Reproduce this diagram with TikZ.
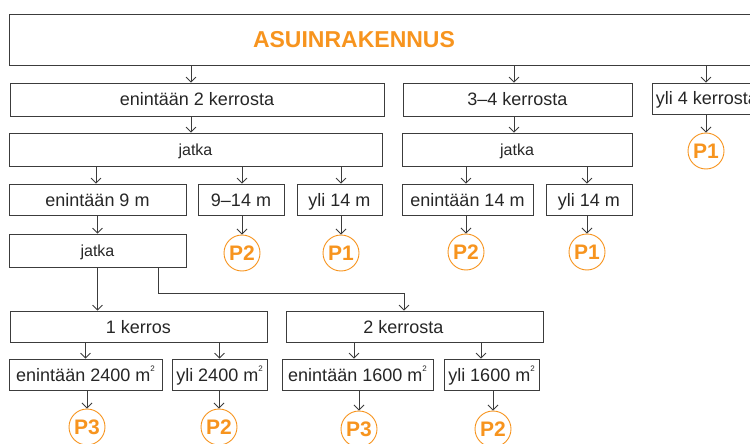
\documentclass[tikz,border=0pt]{standalone}
\usepackage{fontspec}
\setmainfont{Liberation Sans}
\usetikzlibrary{arrows.meta}
\definecolor{ora}{RGB}{247,148,30}
\definecolor{ln}{RGB}{60,60,60}
\tikzstyle{box} = [draw=ln, line width=.8pt, inner sep=0pt, minimum height=31pt, text height=13pt, text depth=0pt, font=\fontsize{18}{20}\selectfont, text=black!85]
\tikzstyle{jat} = [box, minimum height=33pt, text height=11.5pt, font=\fontsize{16}{18}\selectfont]
\tikzstyle{res} = [draw=ora, circle, line width=.9pt, minimum size=36pt, inner sep=0pt, text height=15pt, text depth=0pt, fill=white, text=ora, font=\bfseries\fontsize{21}{22}\selectfont]
\tikzstyle{title} = [text=ora, font=\bfseries\fontsize{23}{25}\selectfont]
\tikzstyle{l} = [draw=ln, line width=.8pt, -{Straight Barb[length=5pt,width=10pt]}]
\newcommand{\msq}{m\raisebox{.55em}{\fontsize{8}{8}\selectfont 2}}

\begin{document}
\begin{tikzpicture}[x=1pt, y=-1pt]
    \useasboundingbox (0,0) rectangle (750,444);

    % rakennus
    \node[box, minimum width=752pt, minimum height=51pt] (top) at (385,39.5) {};
    \node[title] (ttl) at ([xshift=-31pt]top.center) {ASUINRAKENNUS};

    % kerrosluku
    \node[box, minimum width=374pt, minimum height=33pt] (e2k) at (197,99.5) {enintään 2 kerrosta};
    \node[box, minimum width=229pt, minimum height=33pt] (k34) at (517.5,99.5) {3--4 kerrosta};
    \node[box, minimum width=110pt] (y4k) at (707,98.5) {yli 4 kerrosta};

    \node[jat, minimum width=373pt] (j1) at (195.5,149.5) {jatka};
    \node[jat, minimum width=230pt] (j2) at (517,149.5) {jatka};

    % korkeus
    \node[box, minimum width=177pt] (e9) at (97.5,199.5) {enintään 9 m};
    \node[box, minimum width=86pt] (m914) at (241,199.5) {9--14 m};
    \node[box, minimum width=85pt] (y14a) at (339.5,199.5) {yli 14 m};
    \node[box, minimum width=131pt] (e14) at (467.5,199.5) {enintään 14 m};
    \node[box, minimum width=86pt] (y14b) at (589,199.5) {yli 14 m};

    \node[jat, minimum width=177pt] (j3) at (97.5,250.5) {jatka};

    % kerrokset
    \node[box, minimum width=257pt] (k1) at (138.5,326.5) {1 kerros};
    \node[box, minimum width=257pt] (k2) at (414.5,326.5) {2 kerrosta\hspace*{22pt}};

    % pinta-ala
    \node[box, minimum width=153pt] (e24) at (85.5,374.5) {enintään 2400 \msq};
    \node[box, minimum width=95pt] (y24) at (219.5,374.5) {yli 2400 \msq};
    \node[box, minimum width=151pt] (e16) at (357.5,374.5) {enintään 1600 \msq};
    \node[box, minimum width=95pt] (y16) at (491.5,374.5) {yli 1600 \msq};

    % paloluokat
    \foreach \n/\x/\y/\p in {0/706/151/1, 1/242/253/2, 2/341/253/1, 3/466/252/2, 4/587/252/1,
                             5/87/427/3, 6/219/427/2, 7/359/429/3, 8/493/429/2}
    \node[res] (p\n) at (\x,\y) {P\p};

    \foreach \f/\t/\d in {top/e2k/-6, top/k34/-3.5, top/y4k/-1, e2k/j1/-4.5, k34/j2/-3, y4k/p0/0,
                          j1/e9/-1.5, j1/m914/1, j1/y14a/1.5, j2/e14/-1.5, j2/y14b/-2,
                          m914/p1/0, y14a/p2/0, e14/p3/0, y14b/p4/0, e9/j3/0,
                          k1/e24/0, k1/y24/0, k2/e16/-3.5, k2/y16/-10.5,
                          e24/p5/0, y24/p6/0, e16/p7/0, y16/p8/0}
    \draw[l] ([xshift=\d pt]\t.north |- \f.south) -- ([xshift=\d pt]\t.north);

    \draw[l] (j3.south) -- (j3.south |- k1.north);
    \draw[l] ([xshift=60.5pt]j3.south) -- ++(0,26) -| ([xshift=-10.5pt]k2.north);
\end{tikzpicture}
\end{document}
